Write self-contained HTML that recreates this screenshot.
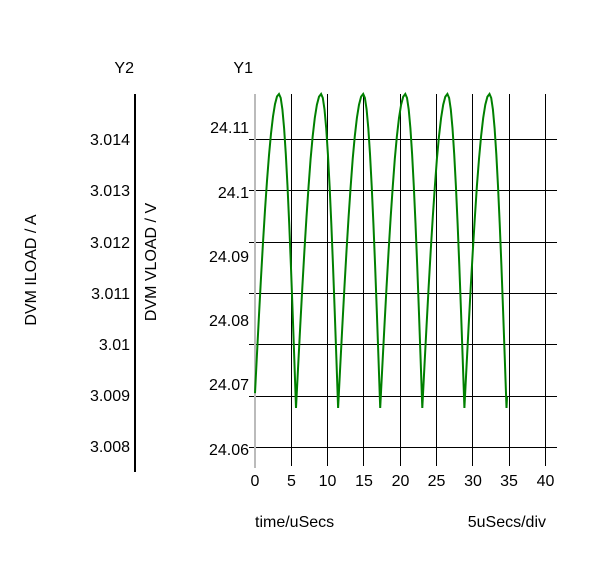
<!DOCTYPE html>
<html><head><meta charset="utf-8"><style>
html,body{margin:0;padding:0;background:#fff;}
svg{display:block;font-family:"Liberation Sans",Arial,sans-serif;font-size:16px;}
</style></head><body>
<svg width="600" height="563" xmlns="http://www.w3.org/2000/svg">
<rect width="600" height="563" fill="#fff"/>
<text x="134" y="73" text-anchor="end">Y2</text>
<text x="253" y="73" text-anchor="end">Y1</text>
<line x1="135" y1="94" x2="135" y2="472" stroke="#000" stroke-width="2"/>
<g text-anchor="end">
<text x="130" y="145">3.014</text><text x="130" y="196">3.013</text><text x="130" y="248">3.012</text>
<text x="130" y="299">3.011</text><text x="130" y="350">3.01</text><text x="130" y="401">3.009</text>
<text x="130" y="452">3.008</text>
<text x="249" y="133">24.11</text><text x="249" y="198">24.1</text><text x="249" y="262">24.09</text>
<text x="249" y="326">24.08</text><text x="249" y="390">24.07</text><text x="249" y="455">24.06</text>
</g>
<text transform="translate(36,270) rotate(-90)" text-anchor="middle">DVM ILOAD / A</text>
<text transform="translate(156,262) rotate(-90)" text-anchor="middle">DVM VLOAD / V</text>
<g stroke="#000" stroke-width="1">
<line x1="249" y1="139.5" x2="557" y2="139.5"/><line x1="249" y1="190.5" x2="557" y2="190.5"/>
<line x1="249" y1="242.5" x2="557" y2="242.5"/><line x1="249" y1="293.5" x2="557" y2="293.5"/>
<line x1="249" y1="344.5" x2="557" y2="344.5"/><line x1="249" y1="396.5" x2="557" y2="396.5"/>
<line x1="249" y1="447.5" x2="557" y2="447.5"/>
<line x1="291.5" y1="94" x2="291.5" y2="466"/><line x1="327.5" y1="94" x2="327.5" y2="466"/>
<line x1="363.5" y1="94" x2="363.5" y2="466"/><line x1="400.5" y1="94" x2="400.5" y2="466"/>
<line x1="436.5" y1="94" x2="436.5" y2="466"/><line x1="472.5" y1="94" x2="472.5" y2="466"/>
<line x1="509.5" y1="94" x2="509.5" y2="466"/><line x1="545.5" y1="94" x2="545.5" y2="466"/>
</g>
<line x1="255" y1="94" x2="255" y2="468" stroke="#bbb" stroke-width="2"/>
<g text-anchor="middle">
<text x="255" y="486">0</text><text x="291.5" y="486">5</text><text x="327.5" y="486">10</text>
<text x="364" y="486">15</text><text x="400.5" y="486">20</text><text x="436.5" y="486">25</text>
<text x="473" y="486">30</text><text x="509" y="486">35</text><text x="545.5" y="486">40</text>
</g>
<text x="255" y="527">time/uSecs</text>
<text x="546" y="527" text-anchor="end">5uSecs/div</text>
<path id="w" fill="none" stroke="#008000" stroke-width="2" d=""/>
<script>
(function(){
var pts=[];var top=94,bot=408,A=bot-top;
for(var i=0;i<=12;i++){var s=0.03+0.97*i/12;pts.push([255+24*(s-0.03)/0.97,bot-A*Math.sin(Math.PI/2*s)]);}
var peak=279;
for(var k=0;k<6;k++){
 var p=peak+k*42.1;
 for(var i=1;i<=10;i++){var s=i/10;pts.push([p+17*s,top+A*(1-Math.cos(Math.PI/2*s))]);}
 if(k<5){for(var i=1;i<=12;i++){var s=i/12;pts.push([p+17+25.1*s,bot-A*Math.sin(Math.PI/2*s)]);}}
}
pts.push([507,397]);
document.getElementById('w').setAttribute('d','M'+pts.map(function(q){return q[0].toFixed(1)+' '+q[1].toFixed(1);}).join(' L'));
})();
</script>
</svg>
</body></html>
